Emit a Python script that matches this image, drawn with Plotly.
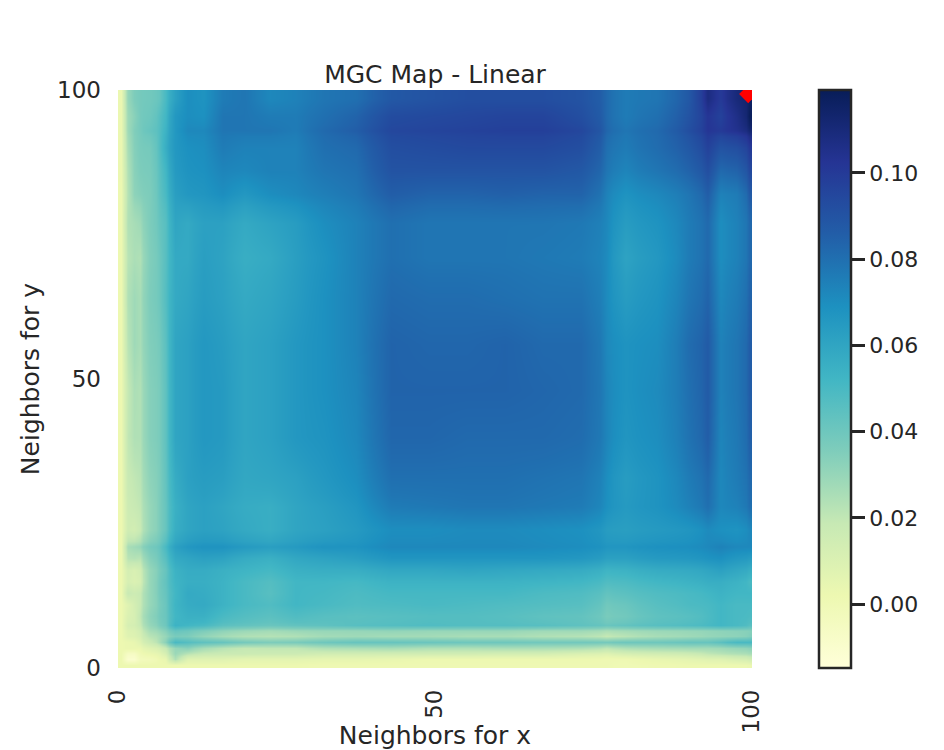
import plotly.graph_objects as go

# cell edges along each axis (finer where the map changes fast)
x_edges = [0, 1, 2, 3, 4, 6, 7, 8, 10, 12, 15, 18, 22, 26, 30, 35, 40, 46, 52, 58,
           64, 70, 76, 78, 82, 88, 92, 94, 96, 99, 100]
y_edges = [0, 1, 2, 3, 4, 5, 6, 7, 8, 10, 12, 14, 16, 18, 20, 22, 26, 30, 36, 44,
           52, 60, 68, 74, 80, 84, 88, 92, 94, 97, 100]

# MGC statistic x 1000, bottom row first
z_rows = [
    [2, 2, 2, 2, 2, 2, 2, 2, 2, 2, 2, 2, 2, 2, 1, 1, 1, 1, 1, 1, 1, 1, 1, 0, 1, 2, 2, 2, 2, 3],
    [2, -10, -10, -3, -2, 2, 4, 24, 8, 8, 8, 6, 6, 6, 5, 5, 4, 2, 2, 2, 2, 2, 1, 1, 4, 6, 8, 8, 11, 14],
    [2, -6, -6, 0, 3, 6, 12, 29, 22, 18, 17, 17, 16, 16, 14, 14, 14, 14, 14, 13, 13, 10, 8, 12, 14, 16, 20, 22, 24, 26],
    [2, 3, 3, 3, 8, 12, 18, 30, 33, 26, 22, 19, 20, 20, 24, 25, 26, 24, 24, 25, 25, 24, 20, 24, 26, 27, 27, 28, 30, 32],
    [2, 3, 4, 8, 17, 25, 33, 50, 47, 44, 42, 38, 36, 37, 40, 42, 42, 41, 40, 40, 39, 39, 38, 40, 40, 42, 42, 45, 50, 50],
    [2, 8, 9, 12, 22, 26, 30, 37, 36, 31, 27, 24, 23, 24, 27, 28, 27, 27, 26, 26, 24, 23, 19, 22, 26, 28, 30, 31, 32, 35],
    [2, 9, 10, 14, 26, 30, 34, 42, 40, 36, 32, 29, 27, 29, 30, 30, 31, 30, 30, 30, 28, 28, 25, 27, 29, 30, 31, 32, 33, 34],
    [2, 12, 13, 18, 30, 36, 40, 54, 52, 50, 45, 43, 41, 43, 44, 46, 47, 48, 47, 47, 46, 44, 41, 43, 46, 48, 50, 52, 50, 46],
    [2, 10, 12, 20, 32, 38, 41, 52, 55, 55, 50, 47, 45, 48, 46, 45, 46, 47, 47, 46, 44, 43, 37, 39, 44, 46, 49, 52, 50, 49],
    [2, 8, 13, 18, 30, 37, 41, 53, 57, 58, 54, 50, 48, 52, 50, 48, 49, 50, 49, 48, 47, 46, 39, 41, 46, 49, 50, 52, 50, 50],
    [2, 18, 16, 18, 30, 38, 42, 52, 58, 57, 54, 50, 46, 52, 51, 49, 51, 51, 51, 51, 49, 48, 43, 45, 48, 50, 52, 54, 52, 52],
    [2, 12, 10, 12, 30, 38, 43, 53, 56, 56, 54, 50, 47, 52, 52, 51, 54, 54, 54, 54, 53, 52, 48, 49, 52, 54, 56, 56, 54, 50],
    [2, 13, 11, 14, 30, 37, 42, 54, 57, 57, 55, 53, 51, 55, 56, 56, 59, 59, 60, 59, 58, 57, 53, 54, 57, 58, 60, 62, 59, 56],
    [2, 22, 23, 22, 34, 40, 46, 58, 60, 62, 61, 57, 55, 59, 61, 63, 67, 67, 67, 67, 67, 66, 62, 62, 65, 66, 68, 69, 66, 64],
    [2, 26, 28, 30, 38, 42, 50, 62, 66, 68, 68, 65, 63, 65, 68, 68, 72, 72, 72, 72, 71, 70, 67, 67, 69, 70, 72, 74, 72, 72],
    [2, 15, 14, 18, 30, 36, 42, 56, 60, 62, 61, 58, 56, 60, 62, 65, 70, 70, 71, 71, 70, 69, 64, 63, 65, 67, 71, 69, 68, 72],
    [2, 16, 18, 20, 30, 36, 42, 55, 60, 62, 60, 57, 56, 60, 63, 67, 76, 77, 78, 78, 77, 76, 69, 65, 68, 74, 80, 72, 74, 80],
    [2, 18, 20, 22, 32, 36, 43, 57, 62, 64, 63, 59, 60, 62, 66, 70, 80, 80, 80, 80, 79, 78, 70, 64, 68, 76, 82, 72, 76, 82],
    [2, 20, 24, 24, 34, 37, 44, 60, 62, 66, 65, 60, 62, 66, 68, 72, 83, 83, 82, 82, 82, 81, 73, 67, 70, 79, 86, 73, 77, 85],
    [2, 19, 25, 24, 34, 37, 44, 60, 62, 66, 65, 60, 62, 66, 69, 73, 84, 84, 84, 84, 83, 82, 73, 68, 71, 80, 87, 74, 78, 86],
    [2, 22, 28, 26, 35, 38, 45, 60, 62, 66, 64, 60, 62, 66, 69, 74, 84, 83, 83, 84, 82, 82, 72, 68, 70, 81, 87, 74, 78, 86],
    [2, 24, 28, 26, 36, 40, 47, 58, 60, 64, 62, 58, 60, 64, 69, 74, 82, 81, 81, 80, 79, 79, 71, 64, 68, 78, 84, 72, 76, 84],
    [2, 22, 25, 24, 35, 40, 46, 58, 58, 63, 61, 56, 58, 63, 68, 74, 80, 78, 78, 78, 77, 76, 71, 61, 66, 76, 82, 70, 74, 82],
    [2, 24, 26, 28, 36, 42, 46, 60, 58, 62, 62, 58, 61, 64, 70, 74, 80, 78, 78, 78, 78, 77, 72, 64, 68, 76, 82, 70, 74, 82],
    [2, 23, 32, 34, 36, 44, 50, 63, 66, 67, 70, 66, 70, 72, 75, 78, 86, 84, 84, 85, 84, 84, 74, 68, 72, 78, 86, 74, 76, 87],
    [3, 24, 33, 36, 37, 45, 52, 65, 68, 69, 73, 72, 74, 74, 78, 80, 90, 90, 90, 90, 90, 88, 78, 73, 78, 84, 92, 82, 84, 94],
    [3, 26, 34, 37, 38, 47, 56, 66, 69, 70, 76, 74, 74, 74, 80, 82, 92, 93, 94, 94, 94, 92, 80, 76, 81, 88, 97, 90, 92, 100],
    [3, 28, 35, 38, 42, 47, 54, 66, 72, 72, 78, 78, 78, 76, 82, 86, 95, 96, 97, 98, 98, 95, 83, 78, 82, 92, 102, 100, 104, 112],
    [3, 28, 33, 38, 40, 46, 52, 66, 70, 69, 78, 78, 76, 76, 80, 84, 93, 94, 95, 96, 96, 92, 82, 76, 80, 90, 102, 97, 106, 118],
    [3, 30, 36, 38, 39, 42, 50, 62, 70, 68, 76, 78, 72, 74, 78, 80, 88, 90, 92, 92, 92, 90, 82, 76, 78, 88, 108, 100, 110, 116],
]
z_values = [[v / 1000 for v in row] for row in z_rows]

opt_x = [99.4]
opt_y = [99.3]

# matplotlib YlGnBu
ylgnbu = ["#ffffd9", "#edf8b1", "#c7e9b4", "#7fcdbb", "#41b6c4",
          "#1d91c0", "#225ea8", "#253494", "#081d58"]
escala = [[i / 8, c] for i, c in enumerate(ylgnbu)]

COR_TEXTO = "#262626"

fig = go.Figure()
fig.add_trace(go.Heatmap(
    x=x_edges,
    y=y_edges,
    z=z_values,
    colorscale=escala,
    zmin=-0.0148,
    zmax=0.1192,
    zsmooth="best",
    colorbar=dict(
        x=(819 - 118) / 634, xanchor="left",
        y=0, yanchor="bottom",
        thickness=32, thicknessmode="pixels",
        len=1, lenmode="fraction",
        xpad=0, ypad=0,
        outlinecolor=COR_TEXTO, outlinewidth=2.5,
        tick0=0, dtick=0.02, tickformat=".2f",
        ticks="outside", ticklen=13, tickwidth=2.5, tickcolor=COR_TEXTO,
        tickfont=dict(size=22, color=COR_TEXTO),
    ),
))
fig.add_trace(go.Scatter(
    x=opt_x, y=opt_y, mode="markers",
    marker=dict(color="red", size=14, symbol="diamond"),
    showlegend=False,
))

fig.update_layout(
    width=944,
    height=750,
    margin=dict(l=118, r=192, t=90, b=82),
    paper_bgcolor="white",
    plot_bgcolor="white",
    font=dict(family="DejaVu Sans", color=COR_TEXTO),
    title=dict(text="MGC Map - Linear", font=dict(size=25, color=COR_TEXTO),
               x=435 / 944, xanchor="center", y=1 - 74 / 750, yanchor="middle"),
    xaxis=dict(
        range=[0, 100], tickvals=[0, 50, 100], tickangle=-90,
        showgrid=False, zeroline=False, showline=False, ticks="",
        automargin=False,
        ticklabelstandoff=16,
        tickfont=dict(size=23, color=COR_TEXTO),
        title=dict(text="Neighbors for x", font=dict(size=25, color=COR_TEXTO), standoff=10),
    ),
    yaxis=dict(
        range=[0, 100], tickvals=[0, 50, 100],
        showgrid=False, zeroline=False, showline=False, ticks="",
        automargin=False,
        ticklabelstandoff=16,
        tickfont=dict(size=23, color=COR_TEXTO),
        title=dict(text="Neighbors for y", font=dict(size=25, color=COR_TEXTO), standoff=10),
    ),
)

fig.write_html("out.html", config={"displayModeBar": False},
               post_script="document.body.style.margin='0';document.body.style.overflow='hidden';")
